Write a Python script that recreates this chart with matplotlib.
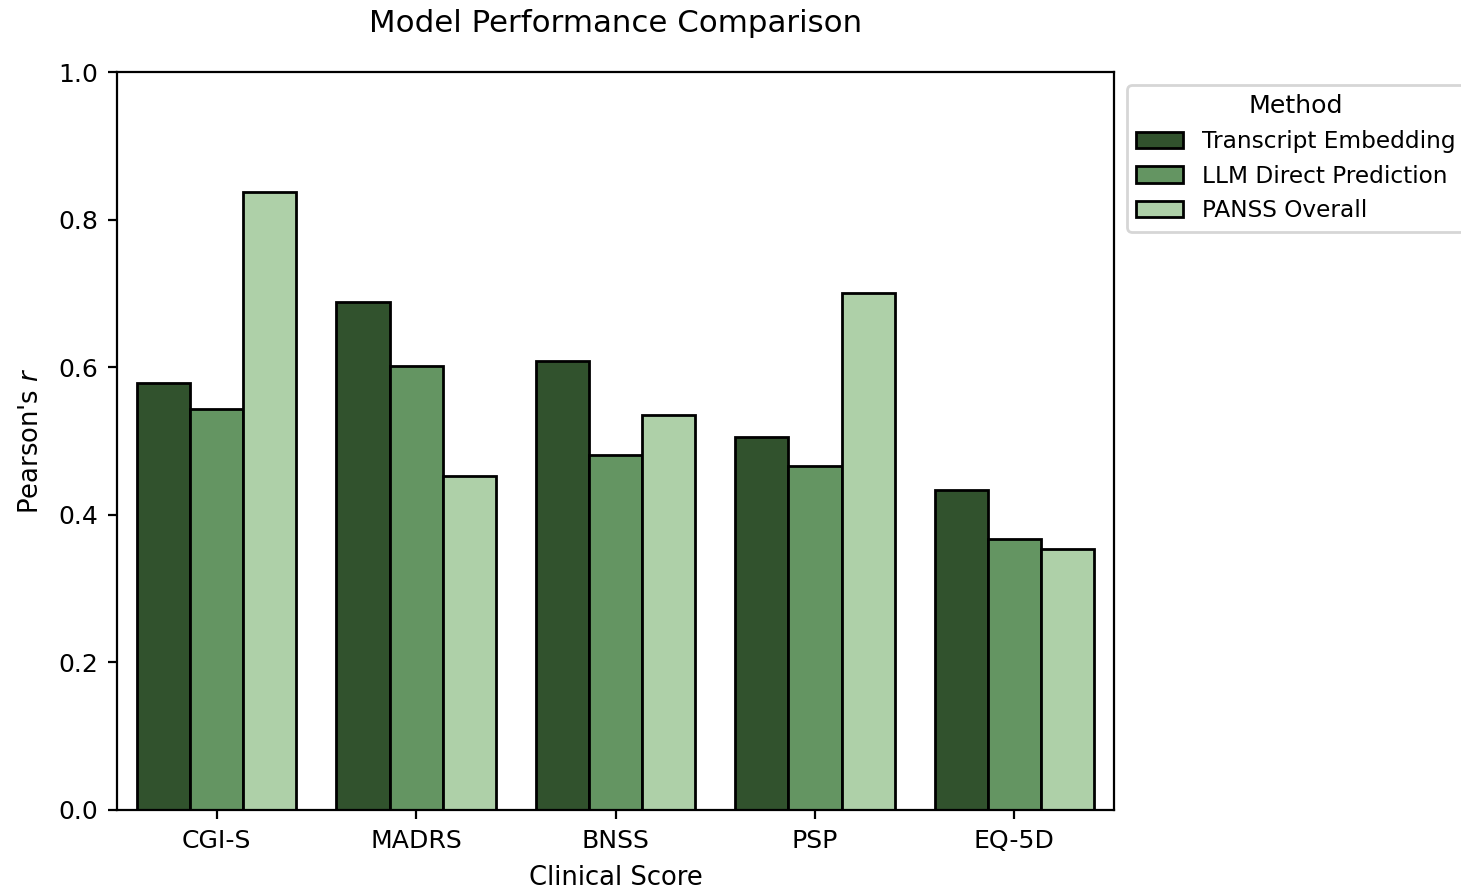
import matplotlib
matplotlib.use("Agg")
import matplotlib.pyplot as plt
import numpy as np

categories = ["CGI-S", "MADRS", "BNSS", "PSP", "EQ-5D"]
methods = ["Transcript Embedding", "LLM Direct Prediction", "PANSS Overall"]
transcript_embedding = [0.578, 0.688, 0.609, 0.505, 0.434]
llm_direct_prediction = [0.544, 0.601, 0.481, 0.466, 0.367]
panss_overall = [0.838, 0.452, 0.535, 0.701, 0.353]
colors = ["#31522d", "#649562", "#aed0a8"]

series = [transcript_embedding, llm_direct_prediction, panss_overall]

plt.rcParams.update({
    "xtick.labelsize": 9.05,
    "ytick.labelsize": 9.05,
    "xtick.major.size": 3.3,
    "ytick.major.size": 3.3,
    "axes.linewidth": 0.8,
})

fig = plt.figure(figsize=(7.305, 4.45), dpi=200)
ax = fig.add_axes([0.0801, 0.0899, 0.6824, 0.8292])

x = np.arange(len(categories))
width = 0.8 / len(methods)
for i, (name, vals, col) in enumerate(zip(methods, series, colors)):
    offs = (i - 1) * width
    ax.bar(x + offs, vals, width=width, color=col, edgecolor="black",
           linewidth=1.0, label=name)

ax.set_xticks(x)
ax.set_xticklabels(categories)
ax.set_xlim(-0.5, len(categories) - 0.5)
ax.set_ylim(0, 1.0)
ax.set_yticks(np.arange(0, 1.01, 0.2))
ax.set_xlabel("Clinical Score", fontsize=9.3, labelpad=4.5)
ax.set_ylabel("Pearson's $r$", fontsize=9.3, labelpad=5)
ax.set_title("Model Performance Comparison", fontsize=11.1, pad=14.5)

ax.legend(title="Method", loc="upper left", bbox_to_anchor=(1.0, 1.0),
          fontsize=8.4, title_fontsize=9.1, borderaxespad=0.55)

fig.savefig("out.png", dpi=200)
